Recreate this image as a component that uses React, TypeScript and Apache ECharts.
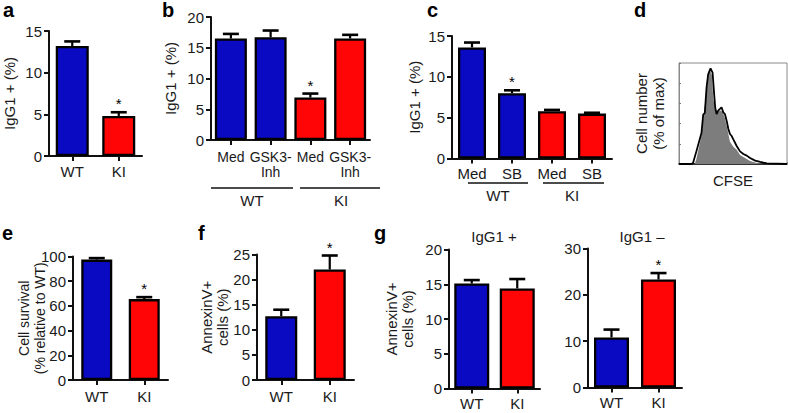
import React, { useEffect, useRef } from "react";
import * as echarts from "echarts";

const FONT = "'Liberation Sans', Arial, Helvetica, sans-serif";
const BLUE = "#0a0ac2";
const RED = "#ff0505";
const INK = "#111111";
const FS = 15;

// Panel a
const aCats = ["WT", "KI"];
const aVals = [13.2, 4.8];
const aErr = [0.55, 0.45];
const aSig = [0, 1];
const aGeno = ["WT", "KI"];

// Panel b
const bCats = ["Med", "GSK3-\nInh", "Med", "GSK3-\nInh"];
const bVals = [16.5, 16.7, 6.9, 16.5];
const bErr = [0.75, 1.1, 0.65, 0.6];
const bSig = [0, 0, 1, 0];
const bGeno = ["WT", "WT", "KI", "KI"];

// Panel c
const cCats = ["Med", "SB", "Med", "SB"];
const cVals = [13.6, 8.0, 5.8, 5.5];
const cErr = [0.6, 0.35, 0.15, 0.1];
const cSig = [0, 1, 0, 0];
const cGeno = ["WT", "WT", "KI", "KI"];

// Panel d (CFSE histogram, % of max)
const dBlackX = [0, 11.5, 13, 16.1, 20.8, 22.4, 23.9, 25.5, 27, 29.2, 31.1, 32.3, 33.5, 34.8, 36.3, 37.9, 39.4, 41, 42.5, 44.1, 45.7, 47.2, 48.8, 50.3, 53.4, 56.5, 59.6, 62.7, 65.8, 70.5, 75.2, 81.4, 100];
const dBlackY = [0, 0, 1, 12.5, 30.7, 48.8, 50.5, 75.6, 88.8, 94.7, 90.4, 72.6, 56.1, 49.5, 52.8, 54.5, 56.1, 51.2, 49.5, 42.9, 34.7, 29.7, 27.7, 24.4, 17.8, 12.5, 9.9, 8.3, 5.9, 3.3, 2, 0.7, 0];
const dGrayX = [14.6, 16.1, 20.8, 22.4, 25.5, 27, 28.6, 30.4, 31.7, 33.2, 34.8, 37.9, 40.4, 42.5, 44.7, 47.2, 50.3, 53.4, 56.5, 59.6, 65.8, 72, 78.3];
const dGrayY = [0, 5, 28, 45, 72, 85, 93, 88, 65, 55, 50, 53, 52, 45, 35, 22, 17, 14, 9, 7, 3, 1, 0];

// Panel e
const eCats = ["WT", "KI"];
const eVals = [97.5, 65.5];
const eErr = [1.2, 1.6];
const eSig = [0, 1];
const eGeno = ["WT", "KI"];

// Panel f
const fCats = ["WT", "KI"];
const fVals = [12.7, 22.0];
const fErr = [1.3, 2.8];
const fSig = [0, 1];
const fGeno = ["WT", "KI"];

// Panel g
const gCats = ["WT", "KI"];
const g1Vals = [15.1, 14.4];
const g1Err = [0.5, 1.35];
const g1Sig = [0, 0];
const g2Vals = [10.8, 23.3];
const g2Err = [1.7, 1.4];
const g2Sig = [0, 1];
const gGeno = ["WT", "KI"];

const colorOf = (g: string) => (g === "WT" ? BLUE : RED);

function errRender(params: any, api: any) {
  const i = api.value(0);
  const v = api.value(1);
  const e = api.value(2);
  const s = api.value(3);
  const p0 = api.coord([i, v]);
  const p1 = api.coord([i, v + e]);
  const children: any[] = [
    { type: "line", shape: { x1: p0[0], y1: p0[1], x2: p1[0], y2: p1[1] }, style: { stroke: "#000", lineWidth: 2.2 } },
    { type: "line", shape: { x1: p1[0] - 8, y1: p1[1], x2: p1[0] + 8, y2: p1[1] }, style: { stroke: "#000", lineWidth: 2.6 } },
  ];
  if (s) {
    children.push({
      type: "text",
      x: p1[0],
      y: p1[1] - 1,
      style: { text: "*", fontSize: 15, fill: "#000", align: "center", verticalAlign: "bottom", fontFamily: FONT },
    });
  }
  return { type: "group", children };
}

export default function App() {
  const ref = useRef<HTMLDivElement>(null);
  useEffect(() => {
    if (!ref.current) return;
    const chart = echarts.init(ref.current, null, { renderer: "svg" });

    const grids: any[] = [];
    const xAxes: any[] = [];
    const yAxes: any[] = [];
    const series: any[] = [];

    const addBarPanel = (
      grid: any,
      cats: string[],
      vals: number[],
      err: number[],
      sig: number[],
      geno: string[],
      max: number,
      interval: number,
      name: string,
      nameGap: number,
      barWidth: number,
      labelMargin: number,
      catFont: number,
      nameFont: number
    ) => {
      const gi = grids.length;
      grids.push(grid);
      xAxes.push({
        type: "category",
        gridIndex: gi,
        data: cats,
        axisLine: { show: true, lineStyle: { color: INK, width: 2 } },
        axisTick: { show: true, alignWithLabel: true, length: 5, lineStyle: { color: INK, width: 2 } },
        axisLabel: { color: "#1a1a1a", fontSize: catFont, fontFamily: FONT, margin: labelMargin, lineHeight: 15, interval: 0 },
      });
      yAxes.push({
        type: "value",
        gridIndex: gi,
        min: 0,
        max,
        interval,
        axisLine: { show: true, lineStyle: { color: INK, width: 2 } },
        axisTick: { show: true, length: 5, lineStyle: { color: INK, width: 2 } },
        axisLabel: { color: "#1a1a1a", fontSize: FS, fontFamily: FONT, margin: 7 },
        splitLine: { show: false },
        name,
        nameLocation: "middle",
        nameRotate: 90,
        nameGap,
        nameMoveOverlap: false,
        nameTextStyle: { color: "#1a1a1a", fontSize: nameFont, fontFamily: FONT, lineHeight: 16 },
      });
      series.push({
        type: "bar",
        xAxisIndex: gi,
        yAxisIndex: gi,
        barWidth,
        data: vals.map((v, i) => ({
          value: v,
          itemStyle: { color: colorOf(geno[i]), borderColor: "#000", borderWidth: 2.3 },
        })),
        z: 2,
      });
      series.push({
        type: "custom",
        xAxisIndex: gi,
        yAxisIndex: gi,
        renderItem: errRender,
        encode: { x: 0, y: 1 },
        data: vals.map((v, i) => [i, v, err[i], sig[i]]),
        z: 3,
      });
    };

    addBarPanel({ left: 49, top: 31, width: 93, height: 125 }, aCats, aVals, aErr, aSig, aGeno, 15, 5, "IgG1 + (%)", 32, 33, 8, FS, FS);
    addBarPanel({ left: 211, top: 17, width: 159, height: 123 }, bCats, bVals, bErr, bSig, bGeno, 20, 5, "IgG1 + (%)", 33, 32, 9, 14, FS);
    addBarPanel({ left: 452, top: 36, width: 160, height: 122.5 }, cCats, cVals, cErr, cSig, cGeno, 15, 5, "IgG1 + (%)", 30, 28, 7.5, FS, FS);
    addBarPanel({ left: 73, top: 256.5, width: 95, height: 123.5 }, eCats, eVals, eErr, eSig, eGeno, 100, 20, "Cell survival\n(% relative to WT)", 25, 31, 9, FS, 14);
    addBarPanel({ left: 257, top: 254.5, width: 97, height: 125.5 }, fCats, fVals, fErr, fSig, fGeno, 25, 5, "AnnexinV+\ncells (%)", 27, 32, 9, FS, FS);
    addBarPanel({ left: 449, top: 249.5, width: 91, height: 139 }, gCats, g1Vals, g1Err, g1Sig, gGeno, 20, 5, "AnnexinV+\ncells (%)", 34, 35, 7.5, FS, FS);
    addBarPanel({ left: 588, top: 248.5, width: 94, height: 139 }, gCats, g2Vals, g2Err, g2Sig, gGeno, 30, 10, "", 20, 35, 7.5, FS, FS);

    // Panel d
    const di = grids.length;
    grids.push({ left: 679, top: 63, width: 108, height: 101, show: true, borderColor: "#8a8a8a", borderWidth: 1, backgroundColor: "#fff" });
    xAxes.push({
      type: "value",
      gridIndex: di,
      min: 0,
      max: 100,
      interval: 20,
      axisLine: { show: true, lineStyle: { color: "#000", width: 1.5 } },
      axisTick: { show: true, inside: true, length: 2, lineStyle: { color: "#777", width: 1 } },
      axisLabel: { show: false },
      splitLine: { show: false },
      name: "CFSE",
      nameLocation: "middle",
      nameGap: 8.5,
      nameTextStyle: { color: "#1a1a1a", fontSize: FS, fontFamily: FONT },
    });
    yAxes.push({
      type: "value",
      gridIndex: di,
      min: 0,
      max: 100,
      interval: 20,
      axisLine: { show: true, lineStyle: { color: "#8a8a8a", width: 1 } },
      axisTick: { show: true, inside: true, length: 2, lineStyle: { color: "#777", width: 1 } },
      axisLabel: { show: false },
      splitLine: { show: false },
      name: "Cell number\n(% of max)",
      nameLocation: "middle",
      nameRotate: 90,
      nameGap: 12,
      nameMoveOverlap: false,
      nameTextStyle: { color: "#1a1a1a", fontSize: FS, fontFamily: FONT, lineHeight: 17 },
    });
    series.push({
      type: "line",
      xAxisIndex: di,
      yAxisIndex: di,
      showSymbol: false,
      data: dGrayX.map((x, i) => [x, dGrayY[i]]),
      lineStyle: { width: 0, color: "#7a7a7a" },
      areaStyle: { color: "#7d7d7d", opacity: 1 },
      z: 2,
    });
    series.push({
      type: "line",
      xAxisIndex: di,
      yAxisIndex: di,
      showSymbol: false,
      data: dBlackX.map((x, i) => [x, dBlackY[i]]),
      lineStyle: { width: 1.8, color: "#000" },
      z: 3,
    });

    const letter = (t: string, x: number, y: number) => ({
      type: "text",
      left: x,
      top: y,
      style: { text: t, fontSize: 20, fontWeight: "bold", fill: "#000", fontFamily: FONT },
    });
    const txt = (t: string, x: number, y: number) => ({
      type: "text",
      x,
      y,
      style: { text: t, fontSize: FS, fill: "#1a1a1a", fontFamily: FONT, align: "center", verticalAlign: "middle" },
    });
    const hline = (x1: number, x2: number, y: number) => ({
      type: "line",
      shape: { x1, y1: y, x2, y2: y },
      style: { stroke: "#111", lineWidth: 1.3 },
    });

    chart.setOption({
      animation: false,
      backgroundColor: "#fff",
      grid: grids,
      xAxis: xAxes,
      yAxis: yAxes,
      series,
      graphic: [
        letter("a", 3, 0),
        letter("b", 162, 0),
        letter("c", 427, 0),
        letter("d", 634, 0),
        letter("e", 2, 223),
        letter("f", 198, 223),
        letter("g", 374, 223),
        hline(211, 293, 188),
        hline(300, 380, 188),
        txt("WT", 252, 200),
        txt("KI", 341, 200),
        hline(468, 528, 183),
        hline(543, 604, 183),
        txt("WT", 498, 195),
        txt("KI", 572, 195),
        txt("IgG1 +", 494, 236),
        txt("IgG1 \u2013", 642, 236),
      ],
    });
    return () => chart.dispose();
  }, []);
  return (
    <div
      ref={ref}
      style={{ position: "absolute", left: 0, top: 0, width: 788, height: 413, background: "#fff" }}
    />
  );
}
